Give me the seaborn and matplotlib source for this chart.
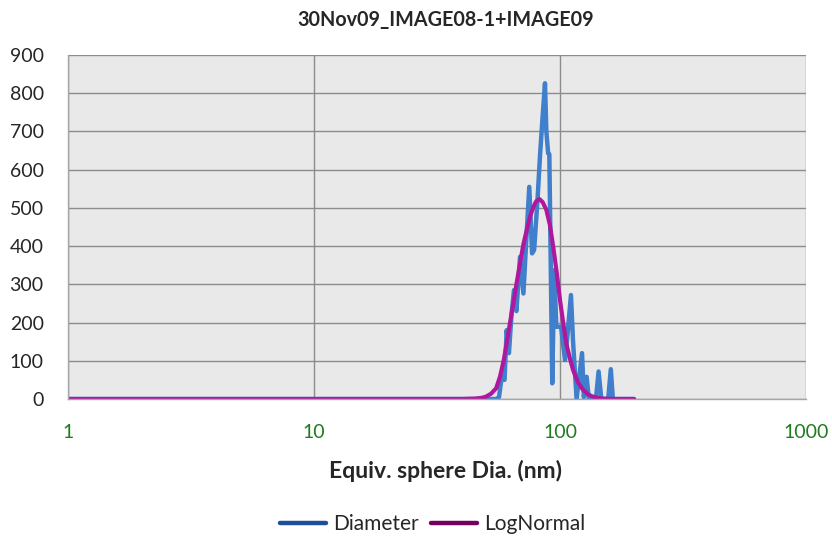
import pandas as pd
import matplotlib
matplotlib.use("Agg")
import matplotlib.pyplot as plt
import seaborn as sns
from matplotlib.lines import Line2D
from matplotlib.ticker import LogLocator, FixedLocator, NullFormatter

# values
dia_x = [1, 55, 56.5, 58, 59.5, 60.7, 62, 63.5, 65, 66.5, 68.8, 71, 73, 75, 77,
         78.5, 81, 83, 85, 86.9, 88, 89.5, 90.5, 93, 94.8, 96.6, 101, 104.8,
         107, 110.8, 113, 116.8, 122.9, 125, 128.3, 131, 134.6, 140, 143.5,
         147.2, 157, 160.9, 164, 200]
dia_y = [0, 0, 5, 60, 50, 180, 120, 220, 285, 230, 372, 276, 420, 555, 381,
         390, 520, 640, 740, 826, 700, 643, 640, 41, 337, 189, 189, 102,
         160, 272, 150, 0, 120, 5, 58, 0, 0, 0, 72, 0, 0, 78, 0, 0]

logn_x = [1, 40, 45, 48, 50, 52.5, 55, 57, 59, 60.7, 62.5, 64.6, 66.7, 68.8,
          71, 73.8, 76, 78, 80, 82.5, 85, 88, 91, 94, 97, 100, 103, 106,
          109.5, 113, 118, 124, 130, 135, 142, 150, 165, 200]
logn_y = [0, 0, 1, 3, 6, 14, 28, 58, 100, 146, 196, 250, 305, 355,
          405, 451, 482, 503, 517, 523, 515, 495, 455, 395, 330, 259, 200, 146,
          108, 76, 45, 24, 12, 7, 3, 1, 0, 0]

title = "30Nov09_IMAGE08-1+IMAGE09"
x_label = "Equiv. sphere Dia. (nm)"
series_names = ["Diameter", "LogNormal"]

sns.set_style("white")
plt.rcParams["font.family"] = ["Lato", "DejaVu Sans"]

df_dia = pd.DataFrame({"x": dia_x, "y": dia_y})
df_logn = pd.DataFrame({"x": logn_x, "y": logn_y})

fig = plt.figure(figsize=(8.32, 5.36), dpi=100)
ax = fig.add_axes([68 / 832, 1 - 399 / 536, 738 / 832, 344 / 536])
ax.set_facecolor("#e9e9e9")

sns.lineplot(data=df_dia, x="x", y="y", ax=ax, color="#3f7fcb", lw=3.2,
             estimator=None, sort=False, solid_joinstyle="round",
             solid_capstyle="round")
sns.lineplot(data=df_logn, x="x", y="y", ax=ax, color="#b0179e", lw=3,
             estimator=None, sort=False, solid_joinstyle="round")

ax.set_xscale("log")
ax.set_xlim(1, 1000)
ax.set_ylim(0, 900)
ax.yaxis.set_major_locator(FixedLocator(range(0, 901, 100)))
ax.xaxis.set_major_locator(LogLocator(base=10))
ax.xaxis.set_minor_locator(LogLocator(base=10, subs=range(2, 10)))
ax.xaxis.set_minor_formatter(NullFormatter())
ax.set_xticks([1, 10, 100, 1000])
ax.set_xticklabels(["1", "10", "100", "1000"])

ax.grid(True, which="major", color="#8c8c8c", lw=1)
ax.set_axisbelow(True)
for side in ["top", "right"]:
    ax.spines[side].set_visible(False)
for side in ["left", "bottom"]:
    ax.spines[side].set_color("#a6a6a6")
    ax.spines[side].set_linewidth(1)

ax.tick_params(axis="x", which="both", direction="out", color="#a6a6a6",
               length=5, width=1, labelsize=14, labelcolor="#1e7b1e", pad=13)
ax.tick_params(axis="y", direction="out", color="#a6a6a6", length=6.5,
               width=1, labelsize=14, pad=11)
ax.set_xlabel(x_label, fontsize=16.5, fontweight="bold")
ax.xaxis.set_label_coords(0.5115, -0.176)
ax.set_ylabel("")

fig.text(446 / 832, 1 - 20 / 536, title, ha="center", va="center",
         fontsize=14.2, fontweight="bold")

handles = [Line2D([], [], color="#1f4e9c", lw=3.2),
           Line2D([], [], color="#76005f", lw=3.2)]
fig.legend(handles, series_names, loc="center", ncol=2, frameon=False,
           bbox_to_anchor=(433 / 832, 1 - 524 / 536), fontsize=15,
           handlelength=2.2, handletextpad=0.35, columnspacing=0.6)

fig.savefig("out.png", dpi=100)
